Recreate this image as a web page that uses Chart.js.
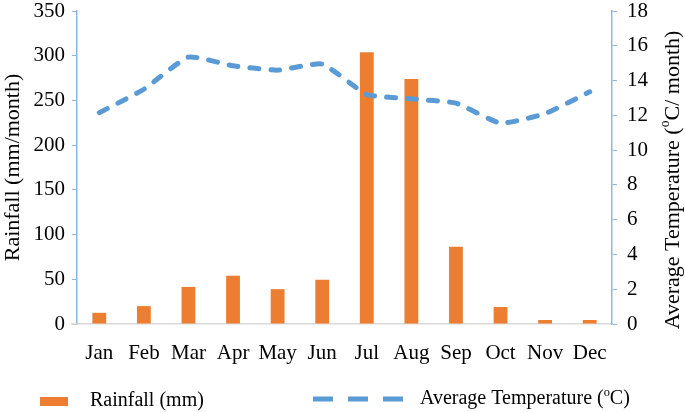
<!DOCTYPE html>
<html>
<head>
<meta charset="utf-8">
<script src="https://cdn.jsdelivr.net/npm/chart.js@4"></script>
<style>
  body { margin: 0; background: #fff; }
  #wrap { width: 685px; height: 412px; }
</style>
</head>
<body>
<div id="wrap"><canvas id="chart" width="685" height="412"></canvas></div>
<script>
const months = ["Jan", "Feb", "Mar", "Apr", "May", "Jun", "Jul", "Aug", "Sep", "Oct", "Nov", "Dec"];
const rainfall = [12.5, 20, 41.5, 54, 39, 49.5, 304, 274, 86.5, 19, 4.5, 4.5];
const temperature = [12.15, 13.5, 15.35, 14.85, 14.6, 14.95, 13.2, 12.95, 12.7, 11.55, 12.1, 13.35];

const serif = "'Liberation Serif', 'Times New Roman', serif";
const barColor = "#ED7D31";
const lineColor = "#5B9BD5";
const axisBlue = "#8DB6E1";

// superscript "o" in the right axis title and the legend
function drawSup(ctx, parts, x, y, size) {
  let cx = x;
  parts.forEach(p => {
    ctx.font = (p.sup ? size * 0.62 : size) + "px " + serif;
    ctx.fillText(p.t, cx, p.sup ? y - size * 0.33 : y);
    cx += ctx.measureText(p.t).width;
  });
}
function supWidth(ctx, parts, size) {
  let w = 0;
  parts.forEach(p => {
    ctx.font = (p.sup ? size * 0.62 : size) + "px " + serif;
    w += ctx.measureText(p.t).width;
  });
  return w;
}

const extras = {
  id: "extras",
  afterDraw(chart) {
    const ctx = chart.ctx;
    ctx.save();
    ctx.fillStyle = "#000";
    ctx.textBaseline = "middle";

    // right axis title
    const title = [{t: "Average Temperature ("}, {t: "o", sup: true}, {t: "C/ month)"}];
    const tw = supWidth(ctx, title, 22);
    ctx.save();
    ctx.translate(673, 180);
    ctx.rotate(-Math.PI / 2);
    drawSup(ctx, title, -tw / 2, 0, 22);
    ctx.restore();

    // legend
    const ly = 401;
    ctx.fillStyle = barColor;
    ctx.fillRect(40, ly - 4, 28, 9);
    ctx.fillStyle = "#000";
    ctx.font = "20px " + serif;
    ctx.fillText("Rainfall (mm)", 90, ly);

    ctx.strokeStyle = lineColor;
    ctx.lineWidth = 5;
    ctx.setLineDash([20, 15]);
    ctx.beginPath();
    ctx.moveTo(313, ly - 2);
    ctx.lineTo(405, ly - 2);
    ctx.stroke();
    ctx.setLineDash([]);
    drawSup(ctx, [{t: "Average Temperature ("}, {t: "o", sup: true}, {t: "C)"}], 420, ly - 2, 20);

    // short stub of the category axis left of the value axis
    const a = chart.chartArea;
    ctx.strokeStyle = "#D9D9D9";
    ctx.lineWidth = 1.5;
    ctx.beginPath();
    ctx.moveTo(a.left - 6, a.bottom);
    ctx.lineTo(a.left, a.bottom);
    ctx.stroke();
    ctx.restore();
  }
};

function noPad(s) {
  s.paddingTop = 0;
  s.paddingBottom = 0;
}

new Chart("chart", {
  type: "bar",
  data: {
    labels: months,
    datasets: [{
      type: "line",
      label: "Average Temperature (°C)",
      data: temperature,
      yAxisID: "y1",
      borderColor: lineColor,
      borderWidth: 5,
      borderDash: [9, 12],
      borderCapStyle: "round",
      borderJoinStyle: "round",
      tension: 0.15,
      pointRadius: 0,
      fill: false,
      order: 0
    }, {
      label: "Rainfall (mm)",
      data: rainfall,
      yAxisID: "y",
      backgroundColor: barColor,
      categoryPercentage: 1,
      barPercentage: 0.31,
      order: 1
    }]
  },
  options: {
    responsive: false,
    animation: false,
    layout: { padding: { top: 11, bottom: 48, left: 0, right: 0 } },
    plugins: { legend: { display: false }, tooltip: { enabled: false } },
    scales: {
      x: {
        grid: { display: false },
        border: { color: "#D9D9D9", width: 1.5 },
        ticks: { color: "#000", font: { family: serif, size: 21 }, padding: 9, maxRotation: 0 },
        afterFit(s) { s.height = 40; }
      },
      y: {
        position: "left",
        min: 0,
        max: 350,
        ticks: { stepSize: 50, color: "#000", font: { family: serif, size: 21 }, padding: 7 },
        grid: { drawOnChartArea: false, tickLength: 5, color: axisBlue },
        border: { color: axisBlue, width: 1.5 },
        title: { display: true, text: "Rainfall (mm/month)", color: "#000", font: { family: serif, size: 22 }, padding: 0 },
        afterFit(s) { s.width = 77; noPad(s); }
      },
      y1: {
        position: "right",
        min: 0,
        max: 18,
        ticks: { stepSize: 2, color: "#000", font: { family: serif, size: 21 }, padding: 10 },
        grid: { drawOnChartArea: false, tickLength: 5, color: axisBlue },
        border: { color: axisBlue, width: 1.5 },
        afterFit(s) { s.width = 73; noPad(s); }
      }
    }
  },
  plugins: [extras]
});
</script>
</body>
</html>
